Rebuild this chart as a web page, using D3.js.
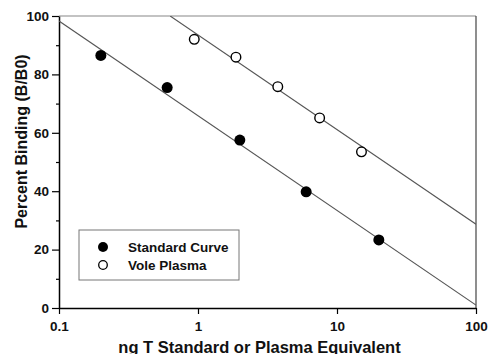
<!DOCTYPE html>
<html>
<head>
<meta charset="utf-8">
<script src="https://cdn.jsdelivr.net/npm/d3@7"></script>
<style>
  body { margin: 0; background: #fff; }
  text { font-family: Arial, "Liberation Sans", sans-serif; font-weight: bold; }
</style>
</head>
<body>
<div id="chart"></div>
<script>
// data
const stdDose = [0.2, 0.6, 2, 6, 20];
const stdBinding = [86.5, 75.5, 57.5, 39.8, 23.3];
const voleDose = [0.94, 1.875, 3.75, 7.5, 15];
const voleBinding = [92, 85.9, 75.8, 65.1, 53.5];
// fitted regression lines (end points)
const stdFitDose = [0.1, 100];
const stdFitBinding = [98.3, 1.0];
const voleFitDose = [0.631, 100];
const voleFitBinding = [100, 28.7];
const xTickValues = [0.1, 1, 10, 100];
const yTickValues = [0, 20, 40, 60, 80, 100];
const yMinorValues = [10, 30, 50, 70, 90];
const seriesNames = ["Standard Curve", "Vole Plasma"];

let width = 489, height = 354;
let padLeft = 59, padRight = 476, padTop = 16, padBottom = 308;

let svg = d3.select("#chart").append("svg")
  .attr("width", width)
  .attr("height", height);

let xScale = d3.scaleLog().domain([0.1, 100]).range([padLeft, padRight]);
let yScale = d3.scaleLinear().domain([0, 100]).range([padBottom, padTop]);

// frame (top and right)
svg.append("line").attr("x1", padLeft).attr("x2", padRight).attr("y1", padTop).attr("y2", padTop)
  .attr("stroke", "#888").attr("stroke-width", 1.2);
svg.append("line").attr("x1", padRight).attr("x2", padRight).attr("y1", padTop).attr("y2", padBottom)
  .attr("stroke", "#444").attr("stroke-width", 1.2);

// clip for fit lines
svg.append("defs").append("clipPath").attr("id", "plotClip")
  .append("rect").attr("x", padLeft).attr("y", padTop)
  .attr("width", padRight - padLeft).attr("height", padBottom - padTop);

// axes
let xAxis = d3.axisBottom(xScale).tickValues(xTickValues).tickFormat(d3.format("")).tickSize(6).tickSizeOuter(0);
let yAxis = d3.axisLeft(yScale).tickValues(yTickValues).tickSize(7).tickPadding(3).tickSizeOuter(0);

let gx = svg.append("g").attr("transform", "translate(0," + padBottom + ")").call(xAxis);
let gy = svg.append("g").attr("transform", "translate(" + padLeft + ",0)").call(yAxis);
let gMinor = svg.append("g").attr("transform", "translate(" + padLeft + ",0)")
  .call(d3.axisLeft(yScale).tickValues(yMinorValues).tickSize(3).tickFormat("").tickSizeOuter(0));
gMinor.select(".domain").remove();
gMinor.selectAll(".tick line").attr("stroke", "#000").attr("stroke-width", 1.2);

[gx, gy].forEach(g => {
  g.select(".domain").attr("stroke", "#000").attr("stroke-width", 1.5);
  g.selectAll(".tick line").attr("stroke", "#000").attr("stroke-width", 1.2);
  g.selectAll(".tick text").attr("fill", "#111").style("font-size", "13.5px").style("font-weight", "bold")
    .style("font-family", "Arial, 'Liberation Sans', sans-serif");
});
gx.selectAll(".tick text").attr("dy", "1.0em");

// fit lines
let line = d3.line().x(d => xScale(d[0])).y(d => yScale(d[1]));
svg.append("path").datum(d3.zip(stdFitDose, stdFitBinding))
  .attr("d", line).attr("fill", "none").attr("stroke", "#555").attr("stroke-width", 1.1)
  .attr("clip-path", "url(#plotClip)");
svg.append("path").datum(d3.zip(voleFitDose, voleFitBinding))
  .attr("d", line).attr("fill", "none").attr("stroke", "#555").attr("stroke-width", 1.1)
  .attr("clip-path", "url(#plotClip)");

// points
svg.selectAll("circle.std").data(d3.zip(stdDose, stdBinding)).enter().append("circle")
  .attr("class", "std")
  .attr("cx", d => xScale(d[0])).attr("cy", d => yScale(d[1])).attr("r", 5.5)
  .attr("fill", "#000");
svg.selectAll("circle.vole").data(d3.zip(voleDose, voleBinding)).enter().append("circle")
  .attr("class", "vole")
  .attr("cx", d => xScale(d[0])).attr("cy", d => yScale(d[1])).attr("r", 4.8)
  .attr("fill", "#fff").attr("stroke", "#000").attr("stroke-width", 1.4);

// legend
let legend = svg.append("g");
legend.append("rect").attr("x", 79).attr("y", 230).attr("width", 160).attr("height", 50)
  .attr("fill", "#fff").attr("stroke", "#777").attr("stroke-width", 1);
seriesNames.forEach((name, i) => {
  let cy = 247 + i * 18;
  if (i === 0) {
    legend.append("circle").attr("cx", 103).attr("cy", cy).attr("r", 5).attr("fill", "#000");
  } else {
    legend.append("circle").attr("cx", 103).attr("cy", cy).attr("r", 4.3)
      .attr("fill", "#fff").attr("stroke", "#000").attr("stroke-width", 1.3);
  }
  legend.append("text").attr("x", 128).attr("y", cy + 5)
    .style("font-size", "13.5px").attr("fill", "#111").text(name);
});

// axis titles
svg.append("text").attr("x", 259.5).attr("y", 352.5)
  .attr("text-anchor", "middle").style("font-size", "16.5px").attr("fill", "#111")
  .text("ng T Standard or Plasma Equivalent");
svg.append("text").attr("transform", "translate(27,141.5) rotate(-90)")
  .attr("text-anchor", "middle").style("font-size", "16px").attr("fill", "#111")
  .text("Percent Binding (B/B0)");
</script>
</body>
</html>
